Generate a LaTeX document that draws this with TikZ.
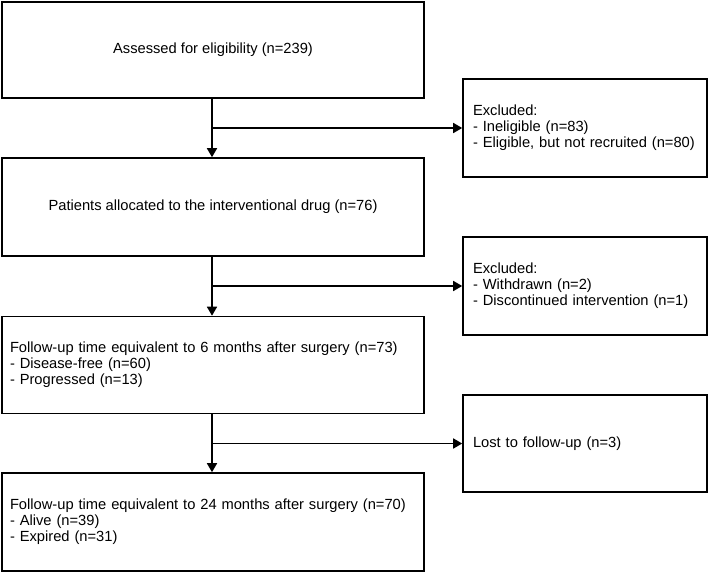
\documentclass[tikz,border=0pt]{standalone}
\usepackage{fontspec}
\setmainfont{Liberation Sans}
\usetikzlibrary{arrows.meta}
\begin{document}
\begin{tikzpicture}[x=1pt,y=-1pt,
  box/.style={draw, line width=1.6pt, rectangle, font=\fontsize{14.7}{16}\selectfont},
  leftbox/.style={box, minimum width=422pt, minimum height=96pt, inner xsep=0pt, inner ysep=0pt},
  listbox/.style={box, minimum width=422pt, minimum height=97pt, inner xsep=8pt, text width=406pt, align=left},
  sidebox/.style={box, minimum width=244pt, minimum height=98pt, inner xsep=10pt, text width=224pt, align=left},
  conn/.style={line width=1.6pt, -{Triangle[width=10pt,length=9pt]}}]
\useasboundingbox (0,0) rectangle (709,572);
\node[leftbox] (A) at (213,50) {Assessed for eligibility (n=239)};
\node[leftbox, minimum height=98pt] (B) at (213,207) {Patients allocated to the interventional drug (n=76)};
\node[listbox] (C) at (213,365) {Follow-up time equivalent to 6 months after surgery (n=73)\\- Disease-free (n=60)\\- Progressed (n=13)};
\node[listbox, minimum height=98pt] (D) at (213,522) {Follow-up time equivalent to 24 months after surgery (n=70)\\- Alive (n=39)\\- Expired (n=31)};
\node[sidebox] (E1) at (585,128) {Excluded:\\- Ineligible (n=83)\\- Eligible, but not recruited (n=80)};
\node[sidebox] (E2) at (585,286) {Excluded:\\- Withdrawn (n=2)\\- Discontinued intervention (n=1)};
\node[sidebox, minimum height=97pt] (E3) at (585,443.5) {Lost to follow-up (n=3)};
\draw[conn] (A.south -| 212,0) -- (B.north -| 212,0);
\draw[conn] (B.south -| 212,0) -- (C.north -| 212,0);
\draw[conn] (C.south -| 212,0) -- (D.north -| 212,0);
\coordinate (j1) at (212,128);
\coordinate (j2) at (212,286);
\coordinate (j3) at (212,443.5);
\draw[conn] (j1) -- (E1.west);
\draw[conn] (j2) -- (E2.west);
\draw[conn] (j3) -- (E3.west);
\end{tikzpicture}
\end{document}
